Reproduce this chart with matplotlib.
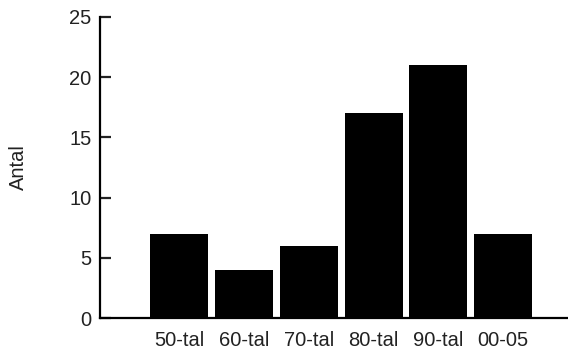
import matplotlib.pyplot as plt
import numpy as np

plt.rcParams['font.family'] = ['Liberation Sans', 'DejaVu Sans']

kategorier = ['50-tal', '60-tal', '70-tal', '80-tal', '90-tal', '00-05']
antal = [7, 4, 6, 17, 21, 7]

W, H = 568, 352
fig = plt.figure(figsize=(W / 100, H / 100), dpi=100)
ax = fig.add_axes([100 / W, 34 / H, 1 - 100 / W, (318 - 17) / H])

x = np.arange(len(kategorier))
ax.bar(x, antal, width=0.895, color='black')

ax.set_xlim(-1.22, 6.0)
ax.set_ylim(0, 25)
ax.set_yticks([0, 5, 10, 15, 20, 25])
ax.set_xticks(x)
ax.set_xticklabels(kategorier)

for s in ['top', 'right']:
    ax.spines[s].set_visible(False)
for s in ['left', 'bottom']:
    ax.spines[s].set_linewidth(1.6)

ax.tick_params(axis='y', direction='in', length=8, width=1.6, pad=6, labelsize=14.5, colors='#222222')
ax.tick_params(axis='x', length=0, pad=9, labelsize=14.5, colors='#222222')
ax.set_ylabel('Antal', fontsize=14.5, color='#222222', labelpad=30)

fig.savefig('out.png', dpi=100)
